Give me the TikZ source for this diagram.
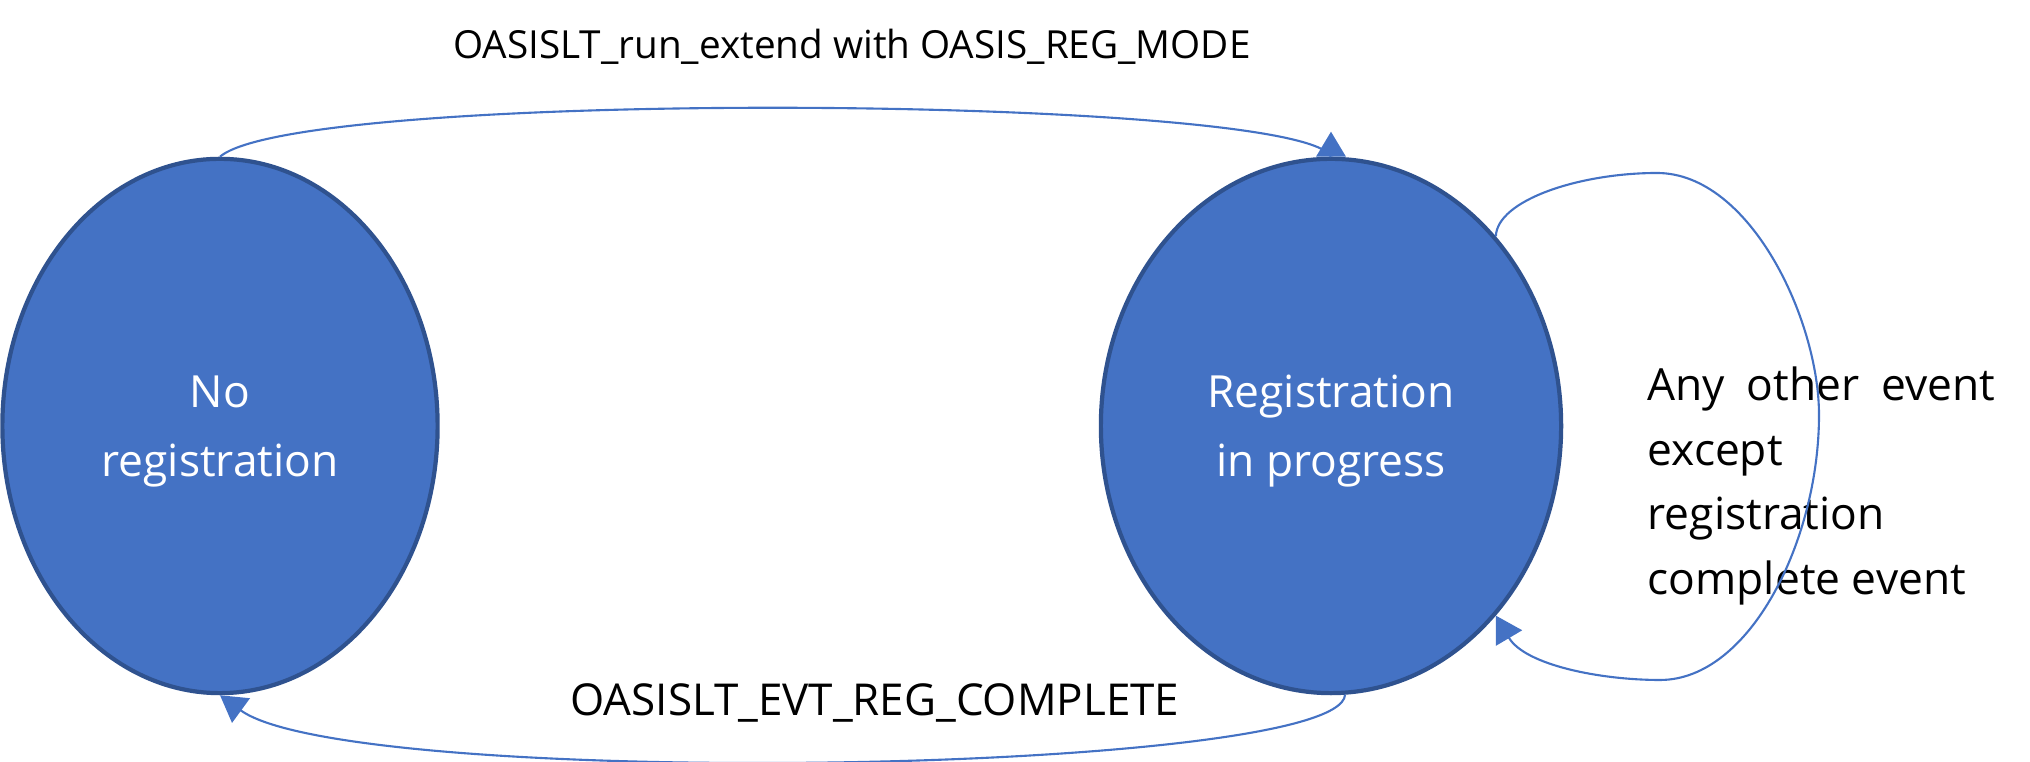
\documentclass[tikz,border=0pt]{standalone}
\usepackage{fontspec}
\setmainfont{Open Sans}
\usetikzlibrary{shapes.geometric,arrows.meta,calc}
\definecolor{stateblue}{HTML}{4472C4}
\definecolor{stateedge}{HTML}{2F528F}

\begin{document}
\begin{tikzpicture}[x=0.01cm,y=-0.01cm,
  state/.style={ellipse,draw=stateedge,fill=stateblue,line width=1.2pt,text=white,
    align=center,minimum height=5.34cm,text depth=0pt,font=\fontsize{12.6}{19.5}\selectfont},
  trans/.style={draw=stateblue,line width=0.6pt},
  tip/.style={-{Triangle[length=0.26cm,width=0.3cm]}},
  lbl/.style={font=\fontsize{11}{14}\selectfont}]
\useasboundingbox (0,0) rectangle (2030,762);
\node[state,minimum width=4.35cm] (noreg) at (220,426) {No\\registration};
\node[state,minimum width=4.6cm] (inprog) at (1331,426) {Registration\\in progress};
\node[lbl] (runlbl) at (852,47) {OASISLT\_run\_extend with OASIS\_REG\_MODE};
\node[lbl,font=\fontsize{12.5}{15}\selectfont] (donelbl) at (875,703) {OASISLT\_EVT\_REG\_COMPLETE};
\node[anchor=west,inner sep=0pt,align=left,font=\fontsize{12.6}{18.3}\selectfont] (otherlbl) at (1647,486)
  {\makebox[3.47cm][s]{Any other event}\\except\\registration\\complete event};
\draw[trans] (noreg.north) .. controls (300,88) and (1300,95) .. (inprog.north);
\fill[stateblue] ($(inprog.north)+(-15,0)$) -- ($(inprog.north)+(15,0)$) -- ($(inprog.north)+(0,-25)$) -- cycle;
\draw[trans,tip] (inprog.-87) .. controls (1340,775) and (350,790) .. (noreg.south);
\draw[trans,tip] (inprog.49) .. controls (1497,200) and (1580,173) .. (1657,173)
  .. controls (1750,173) and (1819,320) .. (1819,415)
  .. controls (1819,540) and (1750,680) .. (1660,680)
  .. controls (1600,680) and (1525,665) .. (inprog.-49);
\end{tikzpicture}
\end{document}
